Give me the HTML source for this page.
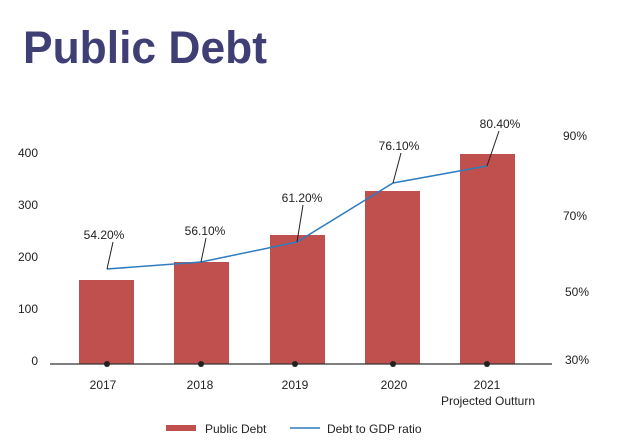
<!DOCTYPE html>
<html><head><meta charset="utf-8"><style>
body{margin:0;background:#fff}
svg{display:block;font-family:"Liberation Sans",sans-serif}
</style></head><body>
<svg width="638" height="446" viewBox="0 0 638 446" xmlns="http://www.w3.org/2000/svg">
<text x="23" y="63" font-size="45" font-weight="bold" fill="#3f3f75" textLength="244" lengthAdjust="spacingAndGlyphs">Public Debt</text>
<g font-size="12" fill="#222" text-anchor="end">
<text x="38" y="157">400</text><text x="38" y="209">300</text><text x="38" y="261">200</text><text x="38" y="313">100</text><text x="38" y="365">0</text>
</g>
<g font-size="12" fill="#222">
<text x="563" y="140">90%</text><text x="563" y="220">70%</text><text x="565" y="296">50%</text><text x="565" y="364">30%</text>
</g>
<g fill="#c0504d">
<rect x="79" y="280" width="55" height="84"/>
<rect x="174" y="262" width="55" height="102"/>
<rect x="270" y="235" width="55" height="129"/>
<rect x="365" y="191" width="55" height="173"/>
<rect x="460" y="154" width="55" height="210"/>
</g>
<line x1="50" y1="364" x2="552" y2="364" stroke="#333" stroke-width="1.2"/>
<g fill="#222"><circle cx="107" cy="364" r="3"/><circle cx="201" cy="364" r="3"/><circle cx="295" cy="364" r="3"/><circle cx="393" cy="364" r="3"/><circle cx="487" cy="364" r="3"/></g>
<polyline points="107,269 201,262 297,242 393,183 487,166" fill="none" stroke="#2e7bbf" stroke-width="1.5"/>
<g stroke="#222" stroke-width="1">
<line x1="113" y1="242" x2="107" y2="269"/><line x1="206" y1="238" x2="201" y2="262"/><line x1="303" y1="205" x2="297" y2="242"/><line x1="401" y1="153" x2="393" y2="183"/><line x1="499" y1="131" x2="487" y2="166"/>
</g>
<g font-size="12" fill="#222" text-anchor="middle">
<text x="104" y="239">54.20%</text><text x="205" y="235">56.10%</text><text x="302" y="202">61.20%</text><text x="399" y="150">76.10%</text><text x="500" y="128">80.40%</text>
<text x="103" y="389">2017</text><text x="200" y="389">2018</text><text x="295" y="389">2019</text><text x="394" y="389">2020</text><text x="487" y="389">2021</text>
<text x="488" y="405">Projected Outturn</text>
</g>
<rect x="166" y="425" width="30" height="6" fill="#c0504d"/>
<text x="205" y="433" font-size="12" fill="#222">Public Debt</text>
<line x1="290" y1="428" x2="320" y2="428" stroke="#2e7bbf" stroke-width="1.5"/>
<text x="327" y="433" font-size="12" fill="#222">Debt to GDP ratio</text>
</svg>
</body></html>
